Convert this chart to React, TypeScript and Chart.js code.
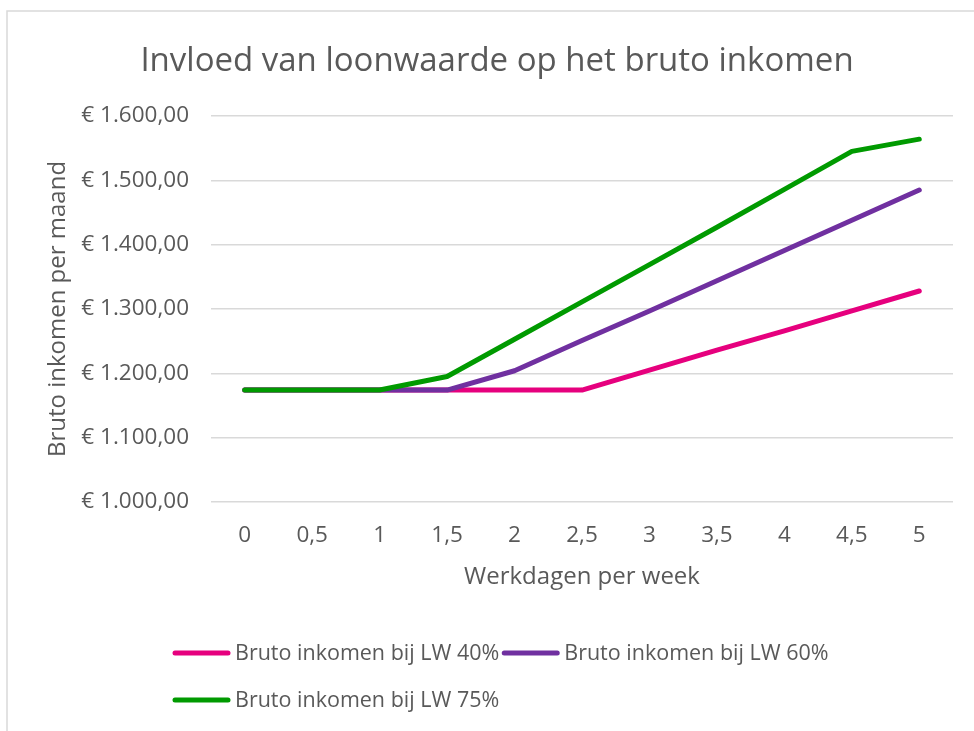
import React, { useEffect, useRef } from "react";
import { Chart, registerables } from "chart.js";

Chart.register(...registerables);

const chartTitle = "Invloed van loonwaarde op het bruto inkomen";
const xTitle = "Werkdagen per week";
const yTitle = "Bruto inkomen per maand";
const categories = ["0", "0,5", "1", "1,5", "2", "2,5", "3", "3,5", "4", "4,5", "5"];
const seriesNames = ["Bruto inkomen bij LW 40%", "Bruto inkomen bij LW 60%", "Bruto inkomen bij LW 75%"];
const lw40 = [1174, 1174, 1174, 1174, 1174, 1174, 1205, 1236, 1266, 1297, 1328];
const lw60 = [1174, 1174, 1174, 1174, 1204, 1251, 1297, 1344, 1391, 1438, 1485];
const lw75 = [1174, 1174, 1174, 1195, 1253, 1311, 1369, 1427, 1486, 1545, 1564];
const seriesColors = ["#E6007E", "#7030A0", "#009A00"];
const yMin = 1000;
const yMax = 1600;
const yStep = 100;

const FONT = "'Open Sans', 'Noto Sans', sans-serif";
const TEXT = "#595959";

const fmtEuro = (v: number) => {
  const s = v.toFixed(2).replace(".", ",");
  const [i, d] = s.split(",");
  return "€ " + i.replace(/\B(?=(\d{3})+(?!\d))/g, ".") + "," + d;
};

const decorPlugin = {
  id: "decor",
  beforeDraw(chart: any) {
    const { ctx, width, height } = chart;
    ctx.save();
    ctx.fillStyle = "#ffffff";
    ctx.fillRect(0, 0, width, height);
    ctx.strokeStyle = "#d9d9d9";
    ctx.lineWidth = 1.5;
    ctx.beginPath();
    ctx.moveTo(7, height + 2);
    ctx.lineTo(7, 11);
    ctx.lineTo(width + 2, 11);
    ctx.stroke();
    ctx.restore();
  },
  afterDraw(chart: any) {
    const { ctx, chartArea } = chart;
    ctx.save();
    // title
    ctx.fillStyle = TEXT;
    ctx.font = `33px ${FONT}`;
    ctx.textAlign = "center";
    ctx.textBaseline = "alphabetic";
    ctx.fillText(chartTitle, 497, 71);
    // legend
    ctx.font = `21.5px ${FONT}`;
    ctx.textAlign = "left";
    ctx.textBaseline = "middle";
    const startX = 173;
    const lineLen = 57;
    const rowYs = [653, 700];
    const maxRight = chartArea.right - 40;
    let x = startX;
    let row = 0;
    chart.data.datasets.forEach((ds: any) => {
      const tw = ctx.measureText(ds.label).width;
      const itemW = lineLen + 5 + tw + 3;
      if (x + itemW > maxRight && x !== startX) {
        row += 1;
        x = startX;
      }
      const y = rowYs[row] ?? rowYs[0] + row * 47;
      ctx.strokeStyle = ds.borderColor;
      ctx.lineWidth = 5;
      ctx.lineCap = "round";
      ctx.beginPath();
      ctx.moveTo(x + 2, y);
      ctx.lineTo(x + lineLen - 2, y);
      ctx.stroke();
      ctx.fillStyle = TEXT;
      ctx.fillText(ds.label, x + lineLen + 5, y + 1);
      x += itemW;
    });
    ctx.restore();
  },
};

export default function App() {
  const ref = useRef<HTMLCanvasElement>(null);
  useEffect(() => {
    document.body.style.margin = "0";
    const data = [lw40, lw60, lw75];
    const chart = new Chart(ref.current as HTMLCanvasElement, {
      type: "line",
      data: {
        labels: categories,
        datasets: seriesNames.map((name, i) => ({
          label: name,
          data: data[i],
          borderColor: seriesColors[i],
          backgroundColor: seriesColors[i],
          borderWidth: 5,
          pointRadius: 0,
          tension: 0,
          borderCapStyle: "round" as const,
          borderJoinStyle: "round" as const,
          order: 3 - i,
        })),
      },
      options: {
        responsive: false,
        animation: false,
        layout: { padding: { left: 37, right: 21, top: 116, bottom: 138 } },
        plugins: {
          legend: { display: false },
          title: { display: false },
          tooltip: { enabled: false },
        },
        scales: {
          x: {
            offset: true,
            grid: { display: false, drawTicks: false },
            border: { display: false },
            ticks: { color: TEXT, font: { family: FONT, size: 22.5 }, padding: 20, maxRotation: 0 },
            title: {
              display: true,
              text: xTitle,
              color: TEXT,
              font: { family: FONT, size: 24 },
              padding: { top: 0, bottom: 1.5 },
            },
            afterFit: (s: any) => {
              s.height = 91;
            },
          },
          y: {
            min: yMin,
            max: yMax,
            grid: { color: "#d9d9d9", lineWidth: 1.5, drawTicks: false },
            border: { display: false },
            ticks: {
              stepSize: yStep,
              color: TEXT,
              font: { family: FONT, size: 22.5 },
              padding: 22,
              callback: (v: any) => fmtEuro(Number(v)),
            },
            title: {
              display: true,
              text: yTitle,
              color: TEXT,
              font: { family: FONT, size: 24 },
              padding: { top: 6.5, bottom: 0 },
            },
            afterFit: (s: any) => {
              s.width = 174;
            },
          },
        },
      },
      plugins: [decorPlugin],
    });
    return () => chart.destroy();
  }, []);
  return (
    <div style={{ width: 974, height: 731 }}>
      <canvas ref={ref} width={974} height={731} />
    </div>
  );
}
